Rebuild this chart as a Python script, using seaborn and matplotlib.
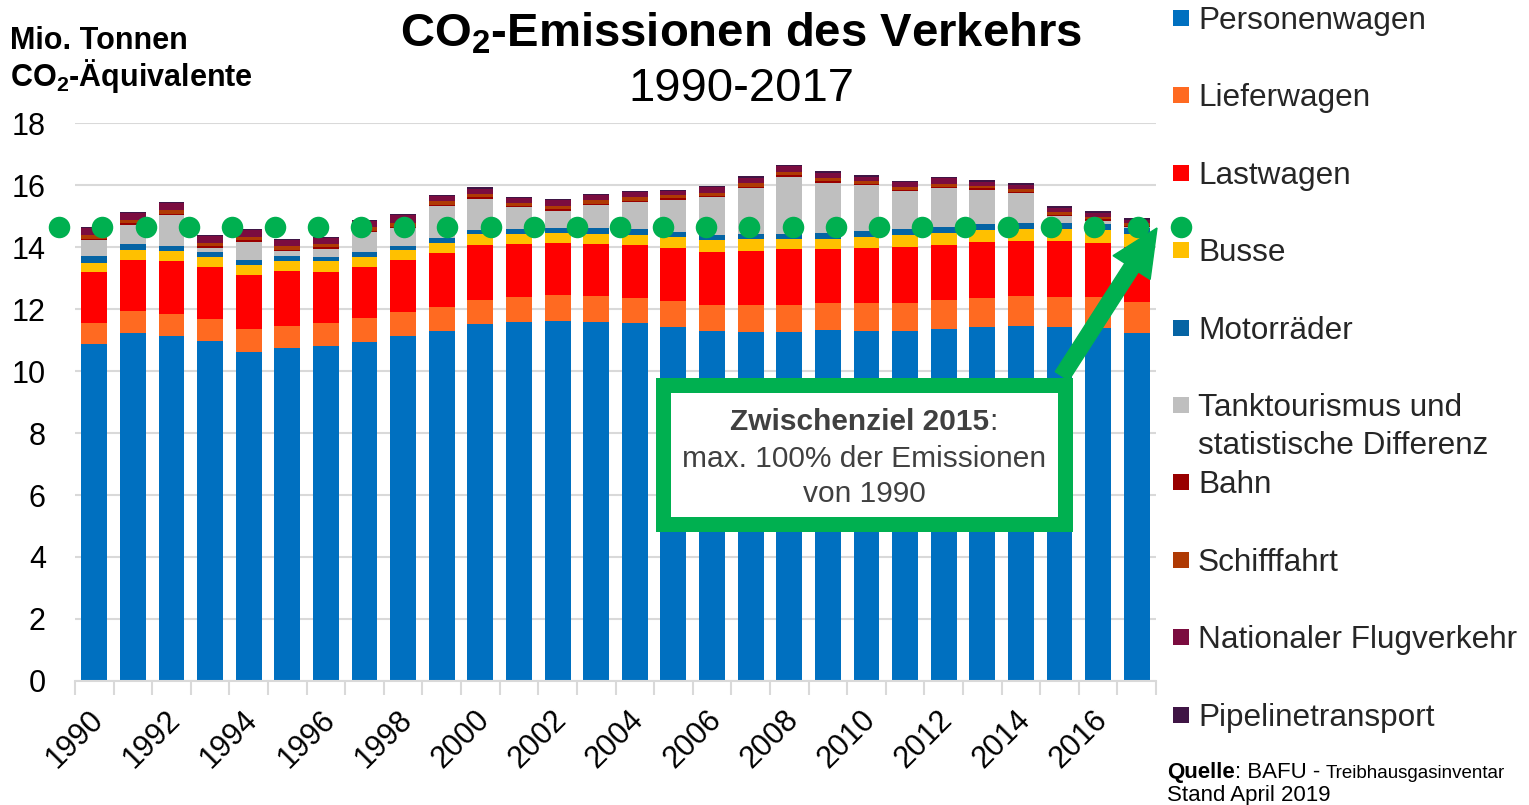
import numpy as np
import pandas as pd
import matplotlib
matplotlib.use("Agg")
import matplotlib.pyplot as plt
from matplotlib.patches import Rectangle, FancyArrow
from matplotlib.text import Annotation
import matplotlib.transforms as mtransforms
import seaborn as sns

# ---------------- data (Mio. t CO2-eq) ----------------
years = list(range(1990, 2018))
categories = ["Personenwagen", "Lieferwagen", "Lastwagen", "Busse", "Motorräder",
              "Tanktourismus und\nstatistische Differenz", "Bahn", "Schifffahrt",
              "Nationaler Flugverkehr", "Pipelinetransport"]
colors = ["#0070C0", "#FF6A21", "#FF0000", "#FFC000", "#0564A4",
          "#BFBFBF", "#990000", "#AF3A04", "#7B0C3F", "#3F1545"]

personenwagen = [10.86, 11.21, 11.14, 10.98, 10.62, 10.73, 10.82, 10.95, 11.14, 11.30,
                 11.52, 11.57, 11.62, 11.59, 11.54, 11.42, 11.28, 11.26, 11.26, 11.31,
                 11.29, 11.28, 11.34, 11.41, 11.44, 11.42, 11.40, 11.24]
lieferwagen = [0.69, 0.72, 0.70, 0.69, 0.72, 0.73, 0.73, 0.76, 0.75, 0.78,
               0.78, 0.82, 0.83, 0.83, 0.81, 0.84, 0.86, 0.88, 0.88, 0.88,
               0.90, 0.91, 0.95, 0.96, 0.98, 0.98, 1.00, 0.99]
lastwagen = [1.65, 1.66, 1.71, 1.67, 1.77, 1.75, 1.65, 1.66, 1.70, 1.74,
             1.78, 1.72, 1.69, 1.69, 1.70, 1.72, 1.71, 1.74, 1.79, 1.74,
             1.79, 1.82, 1.78, 1.80, 1.78, 1.78, 1.74, 1.78]
busse = [0.29, 0.32, 0.32, 0.34, 0.32, 0.33, 0.34, 0.32, 0.31, 0.30,
         0.33, 0.32, 0.31, 0.32, 0.35, 0.33, 0.36, 0.37, 0.32, 0.34,
         0.35, 0.38, 0.38, 0.38, 0.39, 0.39, 0.41, 0.42]
motorraeder = [0.21, 0.20, 0.17, 0.17, 0.16, 0.16, 0.15, 0.15, 0.14, 0.18,
               0.15, 0.16, 0.17, 0.19, 0.18, 0.18, 0.19, 0.18, 0.18, 0.19,
               0.20, 0.19, 0.20, 0.19, 0.18, 0.19, 0.19, 0.19]
tanktourismus = [0.51, 0.60, 0.99, 0.13, 0.58, 0.16, 0.25, 0.64, 0.56, 1.02,
                 1.00, 0.69, 0.55, 0.73, 0.86, 1.04, 1.20, 1.48, 1.84, 1.62,
                 1.47, 1.23, 1.26, 1.11, 0.96, 0.23, 0.11, 0.02]
bahn = [0.05, 0.05, 0.05, 0.05, 0.05, 0.05, 0.05, 0.05, 0.05, 0.05,
        0.05, 0.05, 0.05, 0.05, 0.05, 0.04, 0.04, 0.04, 0.04, 0.04,
        0.04, 0.04, 0.04, 0.04, 0.04, 0.04, 0.04, 0.04]
schifffahrt = [0.12, 0.12, 0.12, 0.11, 0.11, 0.11, 0.10, 0.10, 0.11, 0.10,
               0.11, 0.10, 0.11, 0.11, 0.11, 0.10, 0.10, 0.10, 0.10, 0.10,
               0.09, 0.09, 0.09, 0.09, 0.09, 0.09, 0.09, 0.08]
flugverkehr = [0.22, 0.22, 0.22, 0.21, 0.21, 0.20, 0.19, 0.21, 0.27, 0.17,
               0.16, 0.15, 0.18, 0.17, 0.16, 0.14, 0.18, 0.19, 0.19, 0.17,
               0.14, 0.15, 0.17, 0.13, 0.15, 0.14, 0.13, 0.11]
pipeline = [0.03, 0.03, 0.03, 0.03, 0.03, 0.03, 0.03, 0.03, 0.04, 0.04,
            0.04, 0.04, 0.04, 0.04, 0.04, 0.04, 0.05, 0.05, 0.05, 0.05,
            0.05, 0.05, 0.05, 0.05, 0.05, 0.05, 0.05, 0.05]

series = [personenwagen, lieferwagen, lastwagen, busse, motorraeder,
          tanktourismus, bahn, schifffahrt, flugverkehr, pipeline]

# Zwischenziel 2015 (level of 1990) - line of dots
ziel_level = 14.65
ziel_count = 27
ziel_values = [ziel_level] * ziel_count

y_ticks = [0, 2, 4, 6, 8, 10, 12, 14, 16, 18]
x_label_years = [1990, 1992, 1994, 1996, 1998, 2000, 2002, 2004, 2006, 2008,
                 2010, 2012, 2014, 2016]

# ---------------- figure ----------------
W, H = 1529, 805
sns.set_theme(style="white")
plt.rcParams["font.family"] = ["Liberation Sans", "DejaVu Sans"]
plt.rcParams["mathtext.fontset"] = "custom"
plt.rcParams["mathtext.rm"] = "Liberation Sans"
plt.rcParams["mathtext.bf"] = "Liberation Sans:bold"
plt.rcParams["mathtext.it"] = "Liberation Sans:italic"


def fx(px):
    return px / W


def fy(py):
    return 1 - py / H


fig = plt.figure(figsize=(W / 100, H / 100), dpi=100)
ax = fig.add_axes([fx(75), fy(681), (1156 - 75) / W, (681 - 123) / H])

rows = []
for cat, vals in zip(categories, series):
    for yr, v in zip(years, vals):
        rows.append({"Jahr": yr, "Kategorie": cat, "Wert": v})
df = pd.DataFrame(rows)

palette = dict(zip(categories, colors))
sns.histplot(data=df, x="Jahr", weights="Wert", hue="Kategorie",
             hue_order=categories[::-1], palette=palette, multiple="stack",
             discrete=True, shrink=0.67, legend=False, alpha=1,
             linewidth=0, ax=ax)

ax.set_xlim(years[0] - 0.5, years[-1] + 0.5)
ax.set_ylim(0, 18)
ax.set_xlabel("")
ax.set_ylabel("")
ax.set_yticks(y_ticks)
ax.set_yticklabels([str(t) for t in y_ticks], fontsize=22, color="#000000")
ax.tick_params(axis="y", length=0, pad=21)
ax.yaxis.grid(True, color="#D9D9D9", linewidth=1.5)
ax.set_axisbelow(True)
for s in ["left", "right", "top"]:
    ax.spines[s].set_visible(False)
ax.spines["bottom"].set_color("#D9D9D9")
ax.spines["bottom"].set_linewidth(1.5)

ax.set_xticks(x_label_years)
ax.set_xticklabels([str(y) for y in x_label_years], fontsize=22, rotation=45,
                   ha="right", rotation_mode="anchor", color="#000000")
ax.set_xticks([y - 0.5 for y in years] + [years[-1] + 0.5], minor=True)
ax.tick_params(axis="x", which="major", length=0, pad=17)
ax.tick_params(axis="x", which="minor", length=10, width=1.5, color="#D9D9D9",
               bottom=True)
offset = mtransforms.ScaledTranslation(-6 / 100, 0, fig.dpi_scale_trans)
for lbl in ax.get_xticklabels():
    lbl.set_transform(lbl.get_transform() + offset)

# dots (separate category axis)
ax2 = ax.twiny()
dot_x = list(range(ziel_count))
sns.scatterplot(x=dot_x, y=ziel_values, ax=ax2, color="#00B050", s=240,
                linewidth=0, clip_on=False, zorder=5, legend=False)
step = 43.13
ax2.set_xlim((75 - 59.3) / step, (1156 - 59.3) / step)
ax2.set_ylim(0, 18)
ax2.set_axis_off()

# ---------------- texts ----------------
fig.text(fx(741), fy(47), r"CO$_\mathbf{2}$-Emissionen des Verkehrs", ha="center",
         va="baseline", fontsize=34, fontweight="bold", color="#000000")
fig.text(fx(741), fy(101), "1990-2017", ha="center", va="baseline",
         fontsize=34, color="#000000")
fig.text(fx(10), fy(49), "Mio. Tonnen", ha="left", va="baseline",
         fontsize=22, fontweight="bold", color="#000000")
fig.text(fx(10), fy(86), r"CO$_\mathbf{2}$-Äquivalente", ha="left", va="baseline",
         fontsize=22, fontweight="bold", color="#000000")

# legend (manual, fixed slots)
base0 = 29
lstep = 77.4
for i, (cat, col) in enumerate(zip(categories, colors)):
    b = base0 + i * lstep
    fig.add_artist(Rectangle((fx(1173), fy(b - 3)), 16 / W, 16 / H,
                             transform=fig.transFigure, facecolor=col,
                             edgecolor="none"))
    for j, line in enumerate(cat.split("\n")):
        fig.text(fx(1198), fy(b + j * 38), line, ha="left", va="baseline",
                 fontsize=22.7, color="#262626")

# source
t1 = fig.text(fx(1167), fy(778), "Quelle", ha="left", va="baseline",
              fontsize=16, fontweight="bold", color="#000000")
t2 = Annotation(": BAFU - ", xy=(1, fy(778)), xycoords=(t1, "figure fraction"),
                ha="left", va="baseline", fontsize=16, color="#000000")
fig.add_artist(t2)
t3 = Annotation("Treibhausgasinventar", xy=(1, fy(778)),
                xycoords=(t2, "figure fraction"), ha="left", va="baseline",
                fontsize=13.5, color="#000000")
fig.add_artist(t3)
fig.text(fx(1167), fy(801), "Stand April 2019", ha="left", va="baseline",
         fontsize=16, color="#000000")

# green box annotation
fig.add_artist(Rectangle((fx(662.5), fy(523.5)), (1065 - 662.5) / W,
                         (523.5 - 384.5) / H, transform=fig.transFigure,
                         facecolor="white", edgecolor="#00B050", linewidth=10.8,
                         zorder=6))
tb = fig.text(fx(860), fy(430), "Zwischenziel 2015", ha="center", va="baseline",
              fontsize=21.5, fontweight="bold", color="#404040", zorder=7)
colon = Annotation(":", xy=(1, fy(430)), xycoords=(tb, "figure fraction"),
                   ha="left", va="baseline", fontsize=21.5, color="#404040",
                   zorder=7)
fig.add_artist(colon)
fig.text(fx(864), fy(467), "max. 100% der Emissionen", ha="center",
         va="baseline", fontsize=21.5, color="#404040", zorder=7)
fig.text(fx(864), fy(502), "von 1990", ha="center", va="baseline",
         fontsize=21.5, color="#404040", zorder=7)

# arrow
fig.add_artist(FancyArrow(1062 / 100, (H - 376) / 100, 0.95, 1.48, width=0.16,
                          head_width=0.44, head_length=0.47,
                          length_includes_head=True, color="#00B050",
                          transform=fig.dpi_scale_trans, zorder=6))

fig.savefig("out.png", dpi=100)
